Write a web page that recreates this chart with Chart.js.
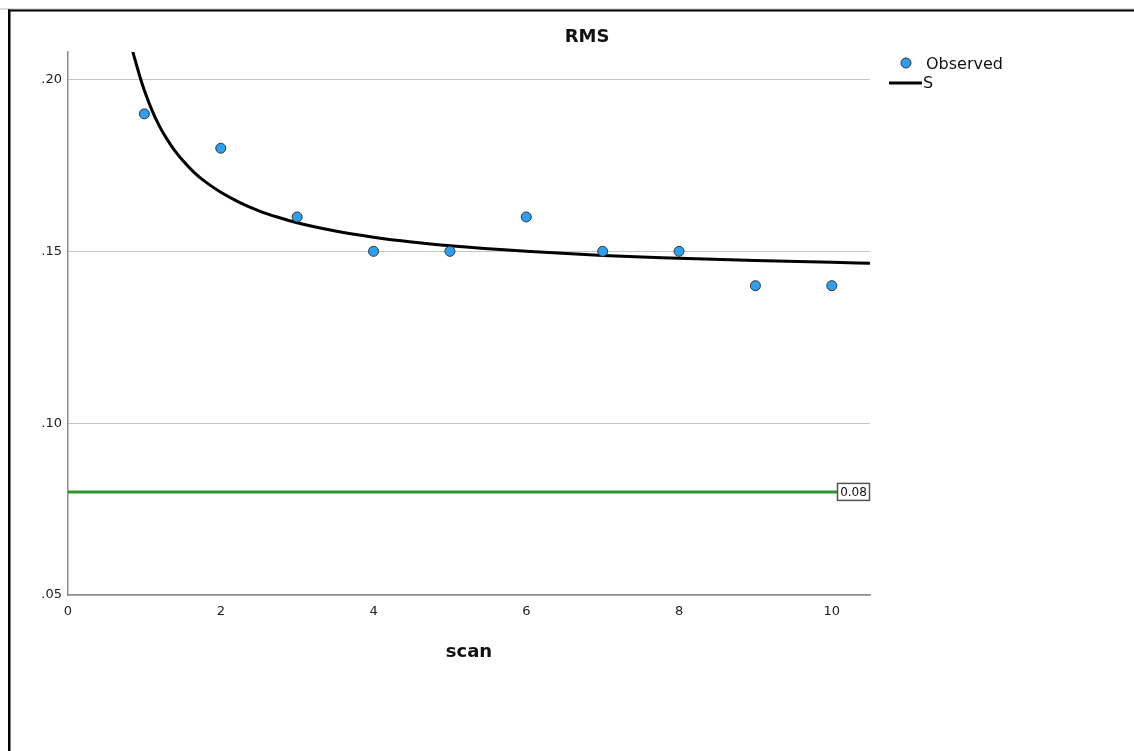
<!DOCTYPE html>
<html>
<head>
<meta charset="utf-8">
<script src="https://cdn.jsdelivr.net/npm/chart.js@4"></script>
<style>
  body { margin: 0; background: #fff; }
  #wrap { width: 1134px; height: 751px; }
</style>
</head>
<body>
<div id="wrap"><canvas id="rmsChart" width="1134" height="751"></canvas></div>
<script>
// Observed values
const scans = [1, 2, 3, 4, 5, 6, 7, 8, 9, 10];
const observedRms = [0.19, 0.18, 0.16, 0.15, 0.15, 0.16, 0.15, 0.15, 0.14, 0.14];

// S curve
const curveScan = [0.8, 0.85, 0.9, 0.95, 1, 1.1, 1.2, 1.3, 1.4, 1.5, 1.65, 1.8, 2, 2.25, 2.5, 2.75, 3, 3.5, 4, 4.5, 5, 6, 7, 8, 9, 10, 10.5];
const curveRms = [0.213, 0.208, 0.204, 0.2002, 0.1968, 0.191, 0.1863, 0.1825, 0.1792, 0.1765, 0.173, 0.1702, 0.1672, 0.1642, 0.1618, 0.1599, 0.1583, 0.1559, 0.1541, 0.1527, 0.1516, 0.150, 0.1488, 0.148, 0.1473, 0.1468, 0.1465];

// Reference line
const refValue = 0.08;
const refLabel = '0.08';

// Tick labels
const xTickValues = [0, 2, 4, 6, 8, 10];
const yTickValues = [0.05, 0.10, 0.15, 0.20];

const FONT = "'DejaVu Sans', sans-serif";

// Extra drawing: title, legend, ref label and the frame
const decorPlugin = {
    id: 'decor',
    afterDraw(chart) {
        const ctx = chart.ctx;
        const y = chart.scales.y;
        ctx.save();

        // frame
        ctx.fillStyle = '#bbbbbb';
        ctx.fillRect(0, 8.5, 1134, 1);
        ctx.fillStyle = '#000';
        ctx.fillRect(8, 9.5, 1126, 2);
        ctx.fillRect(8, 9.5, 2.5, 742);

        // title
        ctx.fillStyle = '#111';
        ctx.font = 'bold 18px ' + FONT;
        ctx.textAlign = 'center';
        ctx.textBaseline = 'middle';
        ctx.fillText('RMS', 587, 37);

        // legend
        ctx.beginPath();
        ctx.arc(906, 63, 5, 0, Math.PI * 2);
        ctx.fillStyle = '#2f9ff2';
        ctx.fill();
        ctx.lineWidth = 1;
        ctx.strokeStyle = '#333';
        ctx.stroke();
        ctx.fillStyle = '#111';
        ctx.font = '16px ' + FONT;
        ctx.textAlign = 'left';
        ctx.fillText('Observed', 926, 65);
        ctx.fillStyle = '#000';
        ctx.fillRect(889, 81.5, 33, 3);
        ctx.fillStyle = '#111';
        ctx.fillText('S', 923, 84);

        // ref label box
        const ry = y.getPixelForValue(refValue);
        ctx.fillStyle = '#fff';
        ctx.fillRect(837.5, ry - 8.5, 32, 17);
        ctx.strokeStyle = '#555';
        ctx.lineWidth = 1.5;
        ctx.strokeRect(837.5, ry - 8.5, 32, 17);
        ctx.fillStyle = '#111';
        ctx.font = '12px ' + FONT;
        ctx.textAlign = 'center';
        ctx.fillText(refLabel, 853.5, ry + 0.5);

        ctx.restore();
    }
};

const initializeRmsChart = () => {
    const ctx = document.getElementById('rmsChart').getContext('2d');
    new Chart(ctx, {
        type: 'scatter',
        data: {
            datasets: [{
                label: 'Reference',
                type: 'line',
                data: [{ x: 0, y: refValue }, { x: 10.5, y: refValue }],
                borderColor: '#2e9330',
                borderWidth: 3,
                pointRadius: 0,
                order: 3
            }, {
                label: 'S',
                type: 'line',
                data: curveScan.map((x, i) => ({ x: x, y: curveRms[i] })),
                borderColor: '#000',
                borderWidth: 3,
                pointRadius: 0,
                cubicInterpolationMode: 'monotone',
                order: 2
            }, {
                label: 'Observed',
                data: scans.map((x, i) => ({ x: x, y: observedRms[i] })),
                backgroundColor: '#2f9ff2',
                borderColor: '#333',
                borderWidth: 1,
                pointRadius: 5,
                order: 1
            }]
        },
        options: {
            responsive: false,
            animation: false,
            layout: {
                padding: { left: 0, right: 264, top: 52, bottom: 0 }
            },
            plugins: {
                legend: { display: false },
                title: { display: false },
                tooltip: { enabled: false }
            },
            scales: {
                x: {
                    type: 'linear',
                    min: 0,
                    max: 10.5,
                    afterFit: s => { s.height = 156; },
                    afterBuildTicks: s => { s.ticks = xTickValues.map(v => ({ value: v })); },
                    grid: { display: false, drawTicks: false },
                    border: { display: true, color: '#8c8c8c', width: 1.5 },
                    ticks: {
                        padding: 9,
                        color: '#222',
                        font: { family: FONT, size: 13 },
                        maxRotation: 0
                    },
                    title: {
                        display: true,
                        text: 'scan',
                        color: '#111',
                        font: { family: FONT, size: 18, weight: 'bold' },
                        padding: { top: 0, bottom: 88 }
                    }
                },
                y: {
                    type: 'linear',
                    min: 0.05,
                    max: 0.208,
                    afterFit: s => { s.width = 68; },
                    afterBuildTicks: s => { s.ticks = yTickValues.map(v => ({ value: v })); },
                    grid: { color: '#c4c4c4', lineWidth: 1, drawTicks: false },
                    border: { display: true, color: '#8c8c8c', width: 1.5 },
                    ticks: {
                        padding: 6,
                        color: '#222',
                        font: { family: FONT, size: 13 },
                        callback: v => v.toFixed(2).slice(1)
                    }
                }
            }
        },
        plugins: [decorPlugin]
    });
};

document.addEventListener('DOMContentLoaded', () => {
    initializeRmsChart();
});
</script>
</body>
</html>
